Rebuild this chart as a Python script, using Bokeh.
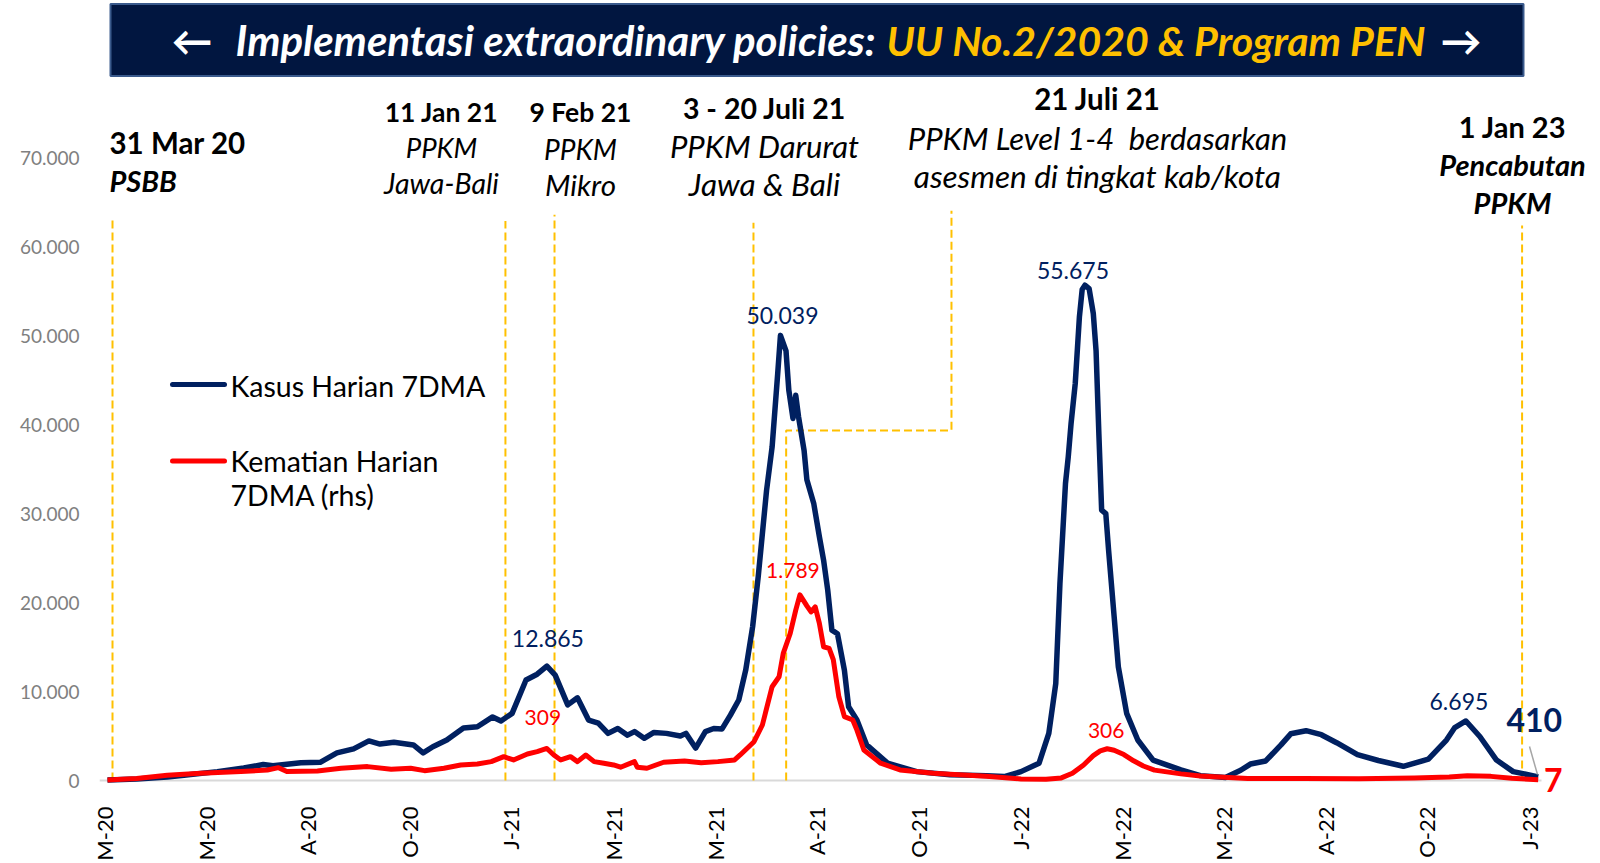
import math
from bokeh.plotting import figure
from bokeh.models import Range1d, FixedTicker, Label
from bokeh.embed import file_html
from bokeh.resources import INLINE

# ---------------- data ----------------
# x axis: day index along the time axis (Mar 2020 .. Jan 2023)
x_labels = ["M-20", "M-20", "A-20", "O-20", "J-21", "M-21", "M-21", "A-21",
            "O-21", "J-22", "M-22", "M-22", "A-22", "O-22", "J-23"]
y_ticks = [0, 10000, 20000, 30000, 40000, 50000, 60000, 70000]

# Kasus Harian 7DMA (lhs)
case_day = [0, 21, 43, 55, 79, 98, 112, 119, 139, 153, 165, 177, 188, 196, 206, 220, 227, 234,
            244, 256, 266, 277, 283, 291, 301, 309, 316, 322, 331, 338, 346, 353, 360, 367, 374,
            379, 386, 393, 402, 412, 416, 423, 430, 436, 442, 448, 454, 459, 464, 468, 474, 478,
            482, 484, 488, 490, 493, 495, 497, 501, 503, 508, 512, 515, 518, 521, 525, 530, 533,
            539, 546, 561, 582, 606, 632, 645, 657, 670, 677, 682, 685, 689, 691, 693, 696, 699,
            701, 703, 706, 709, 711, 713, 715, 718, 720, 724, 727, 733, 741, 752, 772, 786, 804,
            815, 822, 833, 844, 851, 862, 873, 884, 899, 914, 932, 950, 963, 969, 977, 987,
            999, 1011, 1029]
case_val = [60, 180, 400, 600, 1000, 1400, 1800, 1650, 2000, 2050, 3100, 3550, 4450, 4100, 4300,
            4000, 3100, 3800, 4550, 5900, 6050, 7150, 6700, 7550, 11300, 11950, 12865, 11850,
            8500, 9300, 6800, 6450, 5300, 5850, 5100, 5500, 4750, 5400, 5300, 5000, 5300, 3650,
            5500, 5850, 5800, 7350, 9050, 12400, 17300, 22900, 32600, 37500, 45700, 50039,
            48300, 43900, 40700, 43300, 40900, 37100, 33800, 31100, 27400, 24800, 21400, 16900,
            16500, 12400, 8300, 6800, 4000, 1950, 1000, 650, 550, 450, 1000, 1950, 5300, 10900,
            22100, 33400, 36400, 40100, 44600, 52100, 55200, 55675, 55300, 52500, 48300, 39000,
            30400, 30000, 25900, 18400, 12800, 7550, 4550, 2300, 1200, 550, 350, 1150, 1850,
            2200, 4000, 5250, 5600, 5150, 4250, 2900, 2250, 1600, 2400, 4550, 5950, 6695, 4950,
            2300, 1000, 410]

# Kematian Harian 7DMA (rhs)
death_day = [0, 21, 43, 67, 96, 115, 123, 129, 151, 168, 187, 204, 218, 228, 242, 254, 266, 276,
             285, 292, 302, 309, 316, 321, 326, 333, 338, 344, 350, 357, 364, 369, 379, 381, 388,
             400, 415, 427, 439, 451, 455, 465, 471, 478, 483, 486, 491, 495, 498, 503, 506, 509,
             512, 515, 519, 522, 526, 530, 536, 539, 544, 556, 570, 594, 606, 632, 657, 675, 686,
             694, 702, 709, 714, 719, 724, 731, 738, 745, 753, 772, 786, 820, 860, 900, 940, 965,
             978, 995, 1010, 1029]
death_val = [5, 20, 50, 70, 86, 102, 124, 86, 92, 118, 134, 109, 118, 95, 118, 150, 160, 182,
             230, 198, 256, 278, 309, 246, 198, 230, 182, 246, 182, 166, 150, 128, 182, 128, 118,
             176, 189, 172, 182, 198, 246, 374, 535, 904, 1000, 1225, 1417, 1642, 1789, 1683,
             1625, 1673, 1514, 1289, 1273, 1164, 807, 615, 583, 486, 294, 167, 102, 70, 60, 40,
             15, 12, 25, 70, 150, 240, 285, 306, 292, 250, 190, 140, 100, 64, 44, 20, 20, 17, 25,
             35, 45, 40, 22, 7]
RHS_MAX = 6000
LHS_MAX = 70000

# policy markers (day index) and the top of their dashed lines (lhs units)
event_day = [3.6, 286.2, 321.5, 464.6, 1017.4]
event_top = [63300, 62900, 63600, 62700, 62400]
# 20 Juli line + connector to the "21 Juli 21" text
link_day = [488.1, 488.1, 607.0, 607.0]
link_val = [0, 39360, 39360, 64060]

# ---------------- geometry helpers (reference pixel -> data) ----------------
PX_PER_DAY = 1.3904
X0_REF = 107.0
Y0_REF = 781.0
PX_PER_UNIT = 8.907 / 1000.0
W, H = 1600, 863
LEFT, BOTTOM = 99, 68


def dx(xref):
    return (xref - X0_REF) / PX_PER_DAY


def vy(yref):
    return (Y0_REF - yref) / PX_PER_UNIT


NAVY = "#002060"
RED = "#FF0000"
GOLD = "#FFC000"
FONT = "Lato"

y_lo, y_hi = vy(H - BOTTOM), vy(0)
p = figure(width=W, height=H,
           x_range=Range1d(dx(LEFT), dx(W)), y_range=Range1d(y_lo, y_hi),
           output_backend="svg", toolbar_location=None,
           min_border_left=LEFT, min_border_right=0, min_border_top=0,
           min_border_bottom=BOTTOM)
p.extra_y_ranges = {"rhs": Range1d(y_lo * RHS_MAX / LHS_MAX, y_hi * RHS_MAX / LHS_MAX)}
p.xgrid.visible = False
p.ygrid.visible = False
p.outline_line_color = None
p.background_fill_color = "white"
p.border_fill_color = "white"

# axes
x_ticks = [round(-2.45 + 73.22 * k) for k in range(len(x_labels))]
p.xaxis.ticker = FixedTicker(ticks=x_ticks)
p.xaxis.major_label_overrides = {t: lab for t, lab in zip(x_ticks, x_labels)}
p.xaxis.major_label_orientation = math.pi / 2
p.xaxis.major_label_text_font = FONT
p.xaxis.major_label_text_font_size = "22px"
p.xaxis.major_label_text_color = "#000000"
p.xaxis.axis_line_color = None
p.xaxis.major_tick_line_color = None
p.xaxis.minor_tick_line_color = None
p.xaxis.major_label_standoff = 6

p.yaxis.ticker = FixedTicker(ticks=y_ticks)
p.yaxis.major_label_overrides = {t: f"{t:,}".replace(",", ".") for t in y_ticks}
p.yaxis.major_label_text_font = FONT
p.yaxis.major_label_text_font_size = "19px"
p.yaxis.major_label_text_color = "#808080"
p.yaxis.axis_line_color = None
p.yaxis.major_tick_line_color = None
p.yaxis.minor_tick_line_color = None
p.yaxis.major_label_standoff = 14

# category-axis base line (ends with the data)
p.segment(x0=[dx(99)], y0=[0], x1=[dx(1541)], y1=[0], line_color="#D9D9D9", line_width=2)

# banner
p.quad(left=dx(110), right=dx(1523), bottom=vy(75.5), top=vy(3.5),
       fill_color="#011640", line_color="#3A5A8C", line_width=2)


def lab(x, y, text, size, color="#000000", style="normal", align="left",
        xo=0, yo=0, y_range_name="default"):
    p.add_layout(Label(x=x, y=y, text=text, text_font=FONT, text_font_size=size,
                       text_color=color, text_font_style=style, text_align=align,
                       text_baseline="middle", x_offset=xo, y_offset=yo,
                       y_range_name=y_range_name))


lab(dx(171), vy(40), "\u2190", "41px", "white", "bold italic")
lab(dx(876), vy(40), "Implementasi extraordinary policies:", "42px", "white", "bold italic",
    align="right")
lab(dx(886), vy(40), "UU No.2/2020 & Program PEN", "41px", GOLD, "bold italic")
lab(dx(1481), vy(40), "\u2192", "41px", "white", "bold italic", align="right")

# dashed policy lines
p.segment(x0=event_day, y0=[0] * len(event_day), x1=event_day, y1=event_top,
          line_color=GOLD, line_width=2, line_dash="8 4")
p.line(x=link_day, y=link_val, line_color=GOLD, line_width=2, line_dash="8 4")

# series
p.line(x=case_day, y=case_val, line_color=NAVY, line_width=5.5, line_join="round")
p.line(x=death_day, y=death_val, line_color=RED, line_width=5, line_join="round",
       y_range_name="rhs")

# policy texts
lab(dx(109), vy(142), "31 Mar 20", "29.5px", style="bold")
lab(dx(109), vy(180), "PSBB", "29px", style="bold italic")
lab(dx(441), vy(112), "11 Jan 21", "26.5px", style="bold", align="center")
lab(dx(441), vy(147.5), "PPKM", "27.5px", style="italic", align="center")
lab(dx(441), vy(183), "Jawa-Bali", "28.5px", style="italic", align="center")
lab(dx(580), vy(112), "9 Feb 21", "26.5px", style="bold", align="center")
lab(dx(580), vy(148.5), "PPKM", "28px", style="italic", align="center")
lab(dx(580), vy(184), "Mikro", "29.5px", style="italic", align="center")
lab(dx(764), vy(107.5), "3 - 20 Juli 21", "28.5px", style="bold", align="center")
lab(dx(764), vy(145.5), "PPKM Darurat", "31px", style="italic", align="center")
lab(dx(764), vy(184), "Jawa & Bali", "31.5px", style="italic", align="center")
lab(dx(1097), vy(98.5), "21 Juli 21", "29.5px", style="bold", align="center")
lab(dx(1097), vy(137.5), "PPKM Level 1-4\u00a0 berdasarkan", "31px", style="italic",
    align="center")
lab(dx(1097), vy(175.5), "asesmen di tingkat kab/kota", "31.5px", style="italic",
    align="center")
lab(dx(1512), vy(126.5), "1 Jan 23", "29px", style="bold", align="center")
lab(dx(1512), vy(164.5), "Pencabutan", "29px", style="bold italic", align="center")
lab(dx(1512), vy(202), "PPKM", "29px", style="bold italic", align="center")

# legend
p.segment(x0=[dx(172)], y0=[vy(384.5)], x1=[dx(224)], y1=[vy(384.5)],
          line_color=NAVY, line_width=5, line_cap="round")
p.segment(x0=[dx(172)], y0=[vy(461)], x1=[dx(224)], y1=[vy(461)],
          line_color=RED, line_width=5, line_cap="round")
lab(dx(230), vy(385.5), "Kasus Harian 7DMA", "28.5px")
lab(dx(230), vy(461), "Kematian Harian", "28.5px")
lab(dx(230), vy(495), "7DMA (rhs)", "28.5px")


# data labels
def fmt(v):
    return f"{v:,}".replace(",", ".")


for v, xo, yo in [(12865, 1, 28), (50039, 2, 20), (55675, -12, 15), (6695, -7, 19)]:
    i = case_val.index(v)
    lab(case_day[i], v, fmt(v), "23px", NAVY, align="center", xo=xo, yo=yo)
for v, xo, yo in [(309, -4, 31), (1789, -7, 24), (306, -1, 18)]:
    i = death_val.index(v)
    lab(death_day[i], v, fmt(v), "21px", RED, align="center", xo=xo, yo=yo,
        y_range_name="rhs")

lab(case_day[-1], case_val[-1], fmt(case_val[-1]), "32px", NAVY, "bold", "center", xo=-4, yo=57)
p.segment(x0=[dx(1529)], y0=[vy(747)], x1=[dx(1537)], y1=[vy(775)],
          line_color="#A6A6A6", line_width=1.5)
lab(death_day[-1], death_val[-1], fmt(death_val[-1]), "32px", RED, "bold", "center",
    xo=15, yo=0, y_range_name="rhs")

open("out.html", "w").write(file_html(p, INLINE))
